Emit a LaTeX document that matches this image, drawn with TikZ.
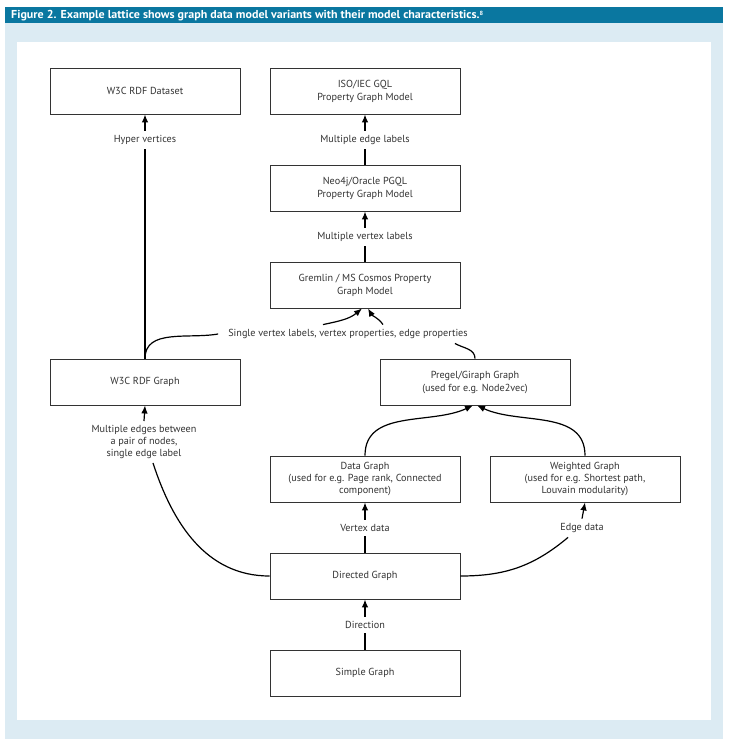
\documentclass[tikz,border=0pt]{standalone}
\usepackage{fontspec}
\setmainfont{PT Sans}
\usetikzlibrary{arrows.meta}
\definecolor{hdr}{HTML}{0A77A0}
\definecolor{panel}{HTML}{DCEBF3}
\definecolor{txt}{HTML}{333333}
\begin{document}
\begin{tikzpicture}[x=1pt,y=1pt,
 box/.style={draw=txt, line width=0.9pt, minimum width=190pt, minimum height=46pt, align=center, text=txt, font=\fontsize{10.2}{13}\selectfont, inner sep=0pt},
 lab/.style={align=center, text=txt, font=\fontsize{10.2}{11.6}\selectfont, inner xsep=2pt, inner ysep=4.5pt},
 con/.style={line width=1.2pt, black},
 arr/.style={con, -{Latex[length=8pt,width=6.5pt]}}]
\useasboundingbox (0,0) rectangle (729,-749);
\fill[white] (0,0) rectangle (729,-749);
\fill[panel] (5,-23) rectangle (723,-739);
\fill[hdr] (5,-7) rectangle (723,-23);
\fill[white] (17,-42) rectangle (711,-720);
\node[anchor=west, text=white, inner sep=0pt, font=\bfseries\fontsize{11.5}{12}\selectfont] (title) at (11,-15.5) {\resizebox{472pt}{\height}{Figure 2. Example lattice shows graph data model variants with their model characteristics.\raisebox{2.5pt}{\fontsize{6}{6}\selectfont 8}}};

\node[box] (dataset) at (145,-91) {W3C RDF Dataset};
\node[box] (gql) at (365,-91) {ISO/IEC GQL\\Property Graph Model};
\node[box] (neo) at (365,-188) {Neo4j/Oracle PGQL\\Property Graph Model};
\node[box] (grem) at (365,-285) {Gremlin / MS Cosmos Property\\Graph Model};
\node[box] (rdfg) at (145,-382) {W3C RDF Graph};
\node[box] (pregel) at (475,-382) {Pregel/Giraph Graph\\(used for e.g. Node2vec)};
\node[box, font=\fontsize{10.2}{11.6}\selectfont] (data) at (365,-479) {Data Graph\\(used for e.g. Page rank, Connected\\component)};
\node[box, font=\fontsize{10.2}{11.6}\selectfont] (weighted) at (585,-479) {Weighted Graph\\(used for e.g. Shortest path,\\Louvain modularity)};
\node[box] (directed) at (365,-576) {Directed Graph};
\node[box] (simple) at (365,-673) {Simple Graph};

\node[lab] (hyper) at (145,-140) {Hyper vertices};
\node[lab] (medge) at (365,-140) {Multiple edge labels};
\node[lab] (mvert) at (365,-237) {Multiple vertex labels};
\node[lab, inner xsep=10pt] (single) at (348,-334) {Single vertex labels, vertex properties, edge properties};
\node[lab] (mult) at (144,-442) {Multiple edges between\\a pair of nodes,\\single edge label};
\node[lab] (vdata) at (365,-528) {Vertex data};
\node[lab] (edata) at (582,-528) {Edge data};
\node[lab] (dir) at (365,-625) {Direction};

\coordinate (g1) at ([xshift=-25pt]single.north);
\coordinate (g2) at ([xshift=35pt]single.north);
\coordinate (sr) at ([xshift=-23pt]single.south east);
\coordinate (ed) at ([xshift=10pt]edata.south west);
\coordinate (mu) at ([xshift=9pt]mult.south);

% W3C column
\draw[con] (rdfg.north) -- (hyper.south);
\draw[arr] (hyper.north) -- (dataset.south);
\draw[arr] (mult.north) -- (rdfg.south);
\draw[con] (directed.west) to[out=180,in=-72] (mu);

% property graph column
\draw[con] (neo.north) -- (medge.south);
\draw[arr] (medge.north) -- (gql.south);
\draw[con] (grem.north) -- (mvert.south);
\draw[arr] (mvert.north) -- (neo.south);
\draw[con] (rdfg.north) to[out=90,in=190] (single.west);
\draw[con] (pregel.north) to[out=90,in=-30] (sr);
\draw[arr] (g1) to[out=12,in=-140] ([xshift=-3pt]grem.south);
\draw[arr] (g2) to[out=125,in=-60] ([xshift=3pt]grem.south);

% lower part
\draw[arr] (data.north) to[out=90,in=-155] ([xshift=-2pt]pregel.south);
\draw[arr] (weighted.north) to[out=90,in=-25] ([xshift=2pt]pregel.south);
\draw[con] (directed.north) -- (vdata.south);
\draw[arr] (vdata.north) -- (data.south);
\draw[con] (directed.east) to[out=0,in=-140] (ed);
\draw[arr] (edata.north) -- (weighted.south);
\draw[con] (simple.north) -- (dir.south);
\draw[arr] (dir.north) -- (directed.south);
\end{tikzpicture}
\end{document}
